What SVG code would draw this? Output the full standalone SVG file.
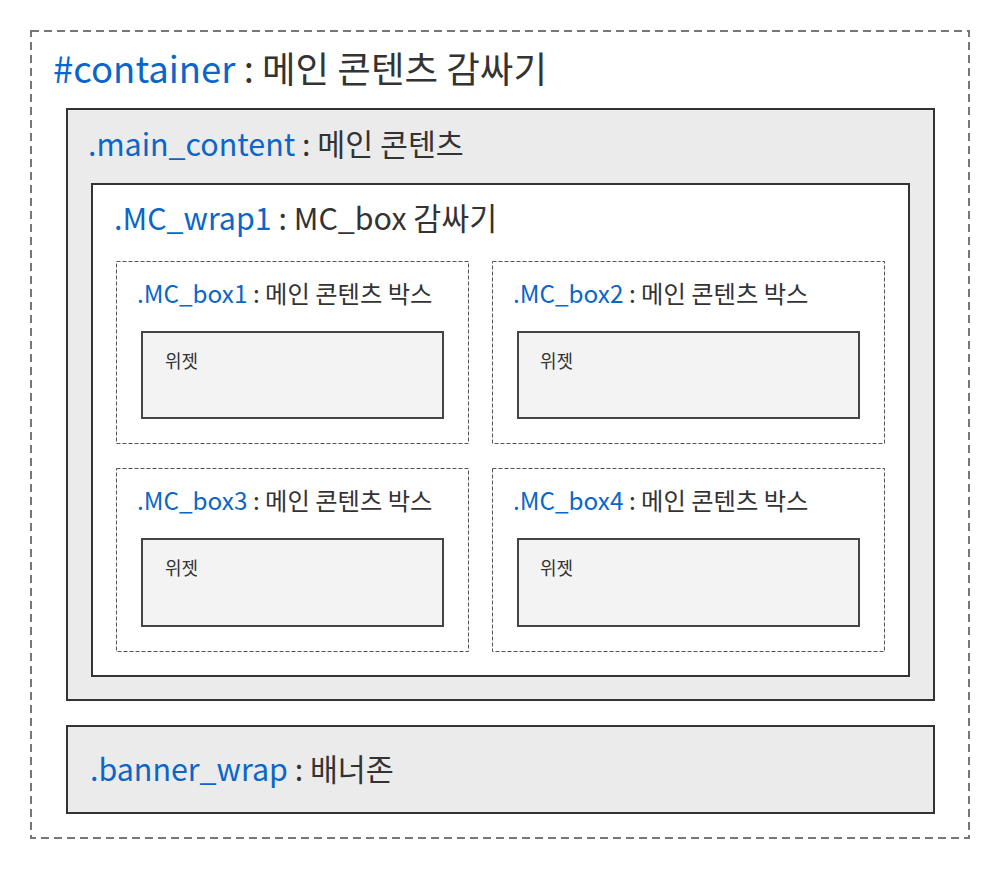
<svg xmlns="http://www.w3.org/2000/svg" width="1000" height="870" viewBox="0 0 1000 870">
<style>
text{font-family:"Noto Sans CJK KR","Noto Sans",sans-serif;fill:#333}
.b{fill:#0a66c8}
.solid{stroke:#333;stroke-width:2}
.box{fill:#fff;stroke:#555;stroke-width:1;stroke-dasharray:4 2}
.wid{fill:#f3f3f3;stroke:#444;stroke-width:2}
.t1{font-size:36.5px}
.t2{font-size:30.4px}
.t3{font-size:24.3px}
.t4{font-size:18px}
</style>
<rect width="1000" height="870" fill="#fff"/>
<g id="container">
<rect x="31" y="31" width="938" height="807" fill="#fff" stroke="#777" stroke-width="2" stroke-dasharray="8 5"/>
<text x="53" y="83" class="t1"><tspan class="b">#container</tspan> : 메인 콘텐츠 감싸기</text>
</g>
<g id="main_content">
<rect x="67" y="109" width="867" height="591" fill="#ebebeb" class="solid"/>
<text x="88" y="156" class="t2"><tspan class="b">.main_content</tspan> : 메인 콘텐츠</text>
</g>
<g id="MC_wrap1">
<rect x="92" y="184" width="817" height="492" fill="#fff" class="solid"/>
<text x="114" y="230" class="t2"><tspan class="b">.MC_wrap1</tspan> : MC_box 감싸기</text>
</g>
<g id="MC_box1">
<rect x="116.5" y="261.5" width="352" height="182" class="box"/>
<text x="137" y="303" class="t3"><tspan class="b">.MC_box1</tspan> : 메인 콘텐츠 박스</text>
<rect x="142" y="332" width="301" height="86" class="wid"/>
<text x="165" y="368" class="t4">위젯</text>
</g>
<g id="MC_box2">
<rect x="492.5" y="261.5" width="392" height="182" class="box"/>
<text x="513" y="303" class="t3"><tspan class="b">.MC_box2</tspan> : 메인 콘텐츠 박스</text>
<rect x="518" y="332" width="341" height="86" class="wid"/>
<text x="540" y="368" class="t4">위젯</text>
</g>
<g id="MC_box3">
<rect x="116.5" y="468.5" width="352" height="183" class="box"/>
<text x="137" y="510" class="t3"><tspan class="b">.MC_box3</tspan> : 메인 콘텐츠 박스</text>
<rect x="142" y="539" width="301" height="87" class="wid"/>
<text x="165" y="575" class="t4">위젯</text>
</g>
<g id="MC_box4">
<rect x="492.5" y="468.5" width="392" height="183" class="box"/>
<text x="513" y="510" class="t3"><tspan class="b">.MC_box4</tspan> : 메인 콘텐츠 박스</text>
<rect x="518" y="539" width="341" height="87" class="wid"/>
<text x="540" y="575" class="t4">위젯</text>
</g>
<g id="banner_wrap">
<rect x="67" y="726" width="867" height="87" fill="#ebebeb" class="solid"/>
<text x="90" y="781" class="t2"><tspan class="b">.banner_wrap</tspan> : 배너존</text>
</g>
<g id="connectors"/>
</svg>
